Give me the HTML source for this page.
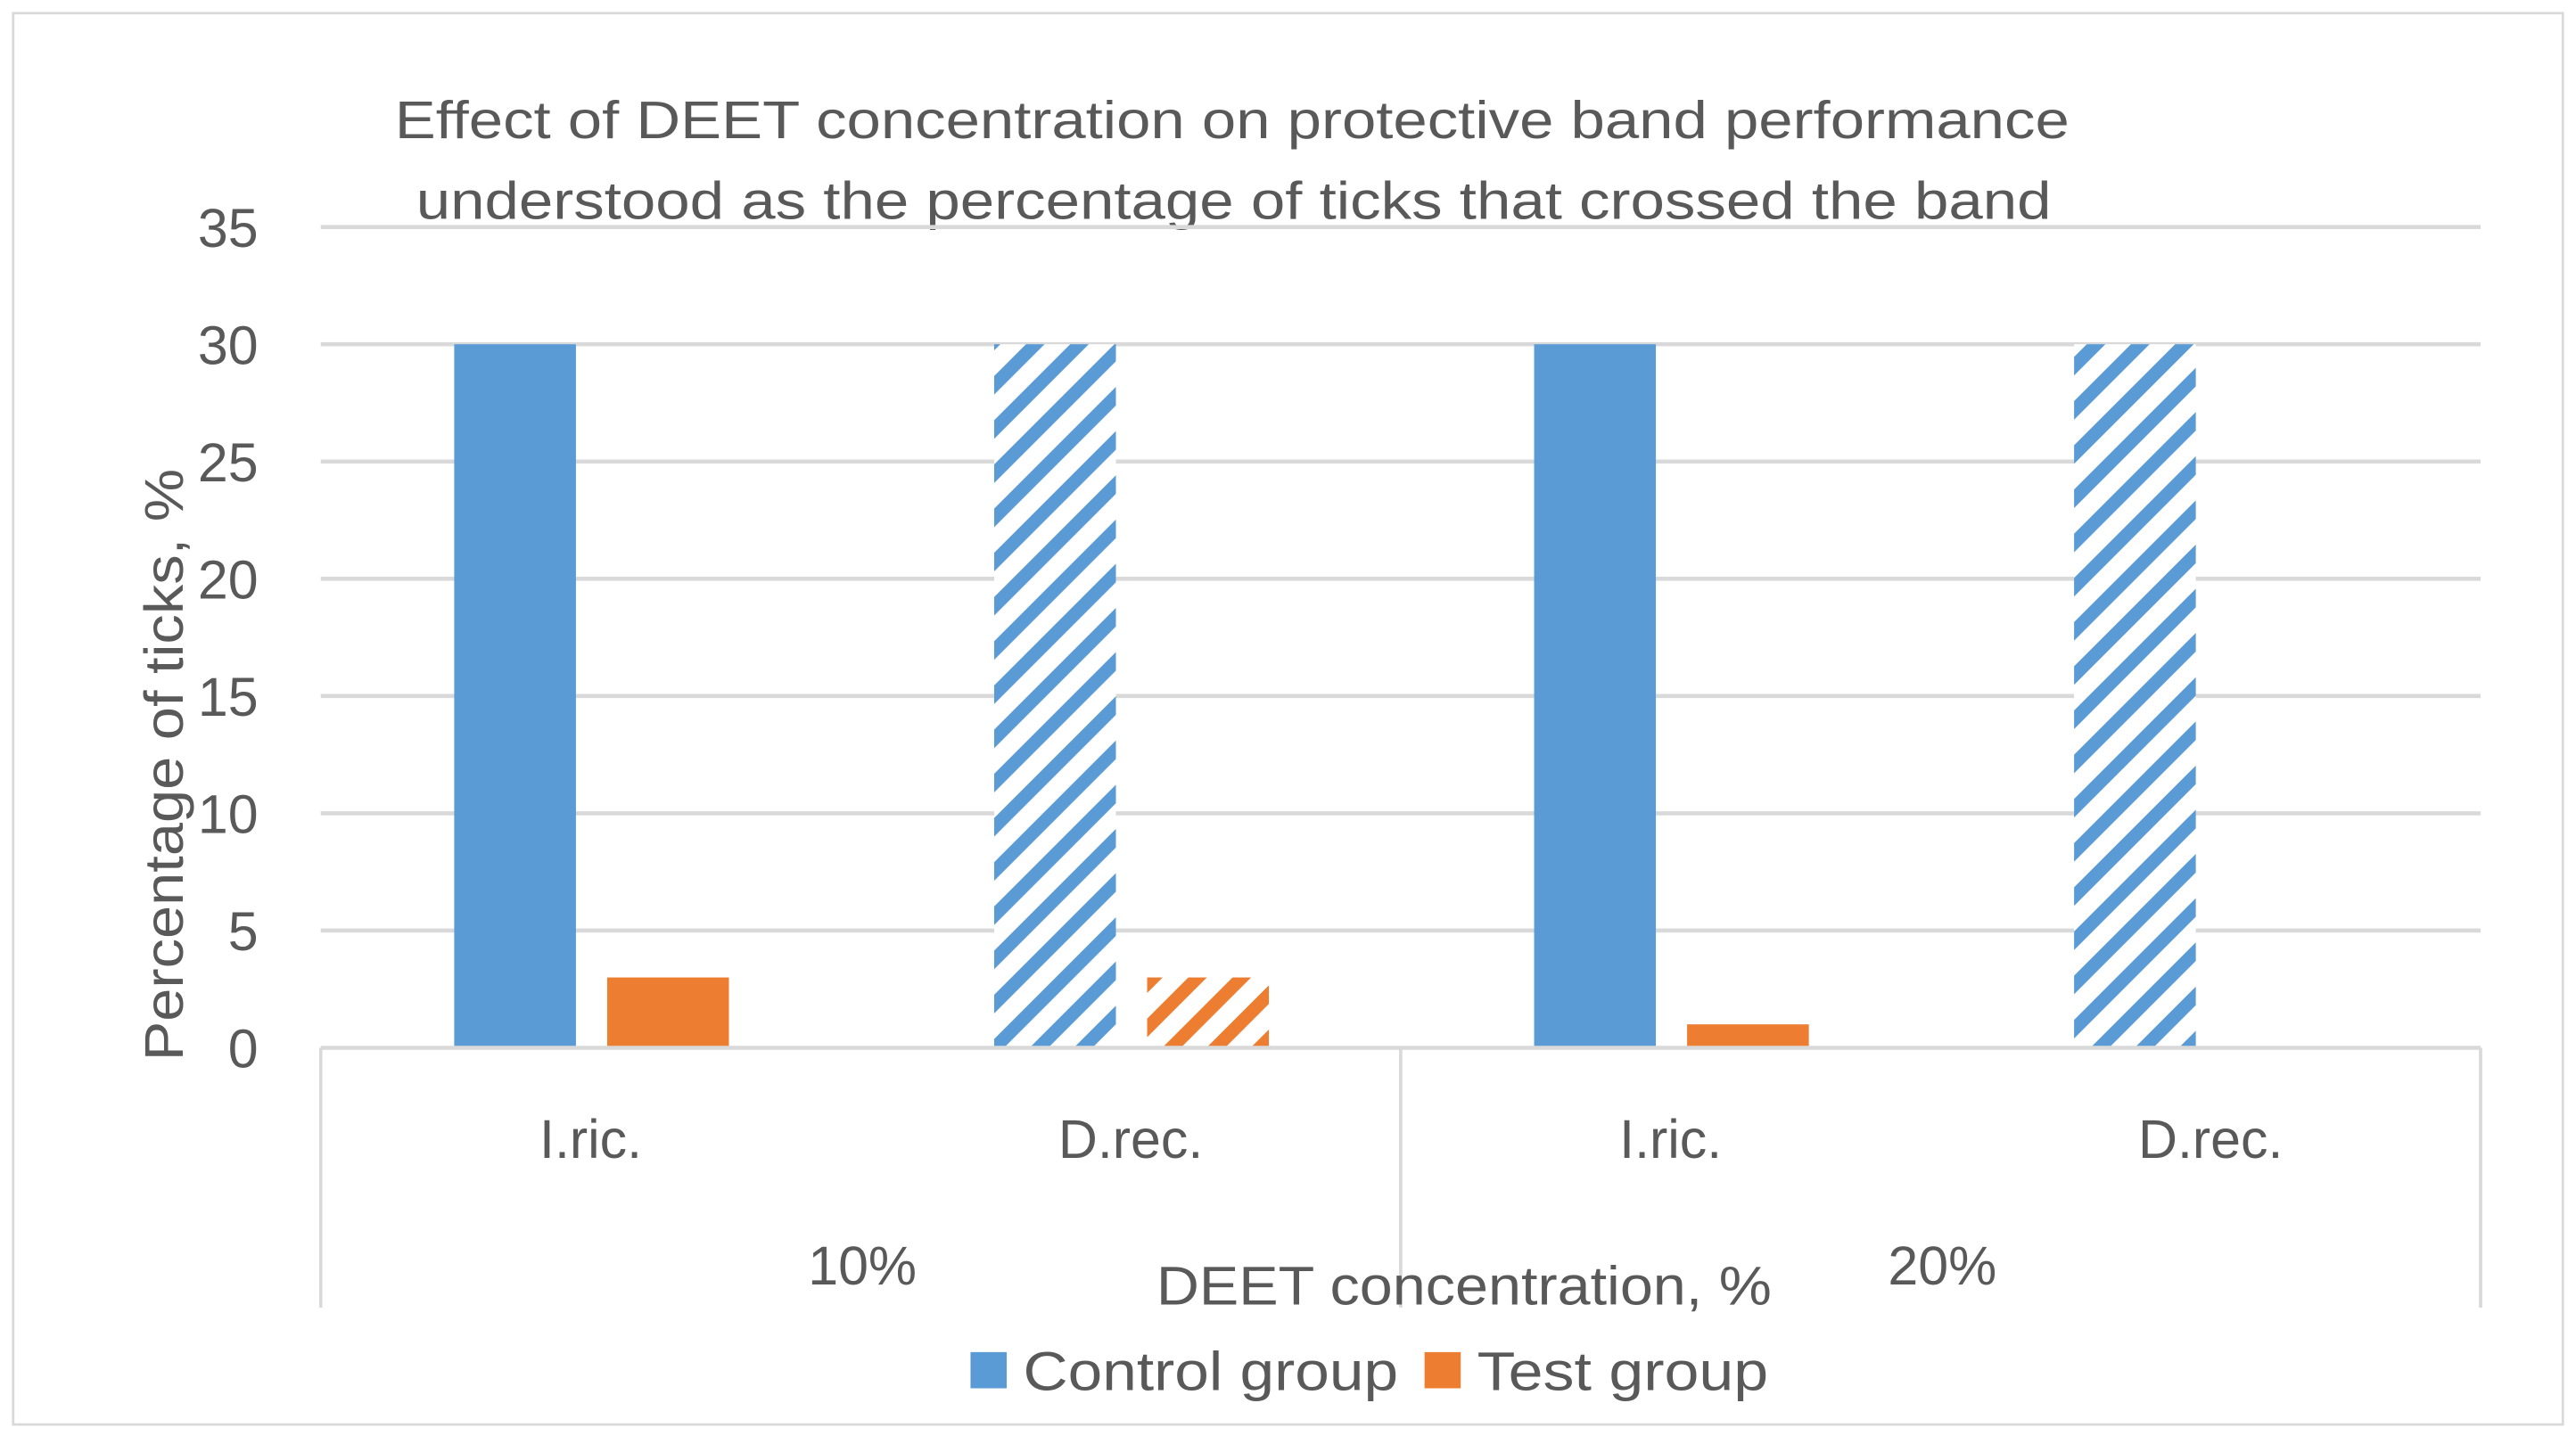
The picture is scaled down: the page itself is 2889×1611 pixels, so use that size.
<!DOCTYPE html>
<html><head><meta charset="utf-8"><style>
html,body{margin:0;padding:0;background:#fff}
svg{display:block}
text{font-family:"Liberation Sans",sans-serif;fill:#595959}
</style></head><body>
<svg id="chart" width="2889" height="1611" viewBox="0 0 1566 873" preserveAspectRatio="none">
<defs>
<pattern id="hb" patternUnits="userSpaceOnUse" width="19" height="19" patternTransform="rotate(45)"><rect width="19" height="19" fill="#fff"/><rect width="8" height="19" fill="#5b9bd5"/></pattern>
<pattern id="ho" patternUnits="userSpaceOnUse" width="19" height="19" patternTransform="rotate(45)"><rect width="19" height="19" fill="#fff"/><rect width="8" height="19" fill="#ed7d31"/></pattern>
</defs>
<rect x="8" y="8" width="1550" height="858" fill="#fff" stroke="#d9d9d9" stroke-width="1.5"/>
<text x="240" y="84" font-size="32" textLength="1018" lengthAdjust="spacingAndGlyphs">Effect of DEET concentration on protective band performance</text>
<text x="253" y="133" font-size="32" textLength="994" lengthAdjust="spacingAndGlyphs">understood as the percentage of ticks that crossed the band</text>
<g id="grid"></g>
<g id="bars"></g>
<g id="axis"></g>
<text transform="translate(111,645) rotate(-90)" font-size="33" textLength="360" lengthAdjust="spacingAndGlyphs">Percentage of ticks, %</text>
<text x="703" y="793" font-size="33" textLength="374" lengthAdjust="spacingAndGlyphs">DEET concentration, %</text>
<rect x="590" y="822" width="22" height="22" fill="#5b9bd5"/>
<text x="622" y="845" font-size="33" textLength="228" lengthAdjust="spacingAndGlyphs">Control group</text>
<rect x="866" y="822" width="22" height="22" fill="#ed7d31"/>
<text x="898" y="845" font-size="33" textLength="177" lengthAdjust="spacingAndGlyphs">Test group</text>
</svg>
<script>
const categories = ["I.ric.", "D.rec.", "I.ric.", "D.rec."];
const groups = ["10%", "20%"];
const controlValues = [30, 30, 30, 30];
const testValues = [3, 3, 1, 0];
const hatched = [false, true, false, true];
const yTicks = [0, 5, 10, 15, 20, 25, 30, 35];

const NS = "http://www.w3.org/2000/svg";
const x0 = 195, x1 = 1508, yBase = 637, yTop = 138, yMax = 35;
const y = v => yBase - (v / yMax) * (yBase - yTop);
const catW = (x1 - x0) / categories.length;
function mk(tag, attrs, parent) {
  const e = document.createElementNS(NS, tag);
  for (const k in attrs) e.setAttribute(k, attrs[k]);
  parent.appendChild(e);
  return e;
}
const grid = document.getElementById("grid");
const bars = document.getElementById("bars");
const axis = document.getElementById("axis");
yTicks.forEach(t => {
  if (t > 0) {
    const l = mk("line", {x1: x0, x2: x1, y1: y(t), y2: y(t), stroke: "#d9d9d9", "stroke-width": 2.5}, grid);
    
    
  }
  const tx = mk("text", {x: 157, y: y(t) + 12, "font-size": 33, "text-anchor": "end"}, grid);
  tx.textContent = t;
  
  
});
const bw = 74;
categories.forEach((c, i) => {
  const cx = x0 + catW * (i + 0.5);
  const b1 = mk("rect", {x: cx - 83, y: y(controlValues[i]), width: bw, height: yBase - y(controlValues[i]), fill: hatched[i] ? "url(#hb)" : "#5b9bd5"}, bars);
  
  
  const b2 = mk("rect", {x: cx + 10, y: y(testValues[i]), width: bw, height: yBase - y(testValues[i]), fill: hatched[i] ? "url(#ho)" : "#ed7d31"}, bars);
  
  
  const t = mk("text", {x: cx, y: 704, "font-size": 33, "text-anchor": "middle"}, axis);
  t.textContent = c;
  
  
});
const ax = mk("line", {x1: x0, x2: x1, y1: yBase, y2: yBase, stroke: "#d9d9d9", "stroke-width": 2.5}, axis);


[0, 1, 2].forEach(k => {
  const xx = x0 + k * (x1 - x0) / 2;
  const l = mk("line", {x1: xx, x2: xx, y1: yBase, y2: 795, stroke: "#d9d9d9", "stroke-width": 2}, axis);
  
  
});
groups.forEach((g, k) => {
  const t = mk("text", {x: x0 + (x1 - x0) * (k * 2 + 1) / 4 + 1, y: 781, "font-size": 33, "text-anchor": "middle"}, axis);
  t.textContent = g;
  
  
});
</script>
</body></html>
